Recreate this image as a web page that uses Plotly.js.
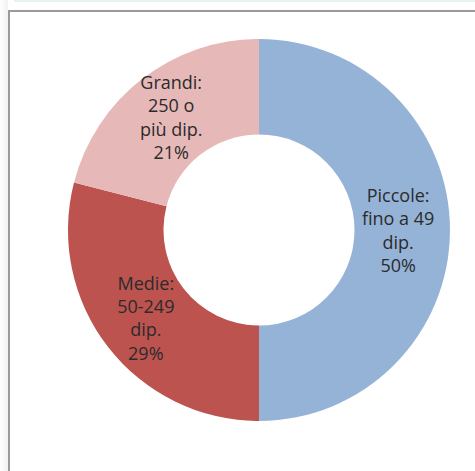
<!DOCTYPE html>
<html>
<head>
<meta charset="utf-8">
<script src="https://cdn.plot.ly/plotly-3.0.1.min.js"></script>
<style>
  html, body { margin: 0; padding: 0; background: #ffffff; width: 475px; height: 471px; overflow: hidden; }
  #shade { position: absolute; left: 0; top: 0; width: 8px; height: 471px; background: linear-gradient(to right, #ffffff, #f1f1f1); }
  #strip { position: absolute; left: 14px; top: 0; width: 461px; height: 2px; background: #e6f3f3; }
  #frame { position: absolute; left: 8px; top: 10px; width: 520px; height: 520px; border: 2px solid #9a9a9a; background: #ffffff; box-sizing: border-box; }
  #chart { position: absolute; left: 0; top: 0; width: 475px; height: 471px; }
</style>
</head>
<body>
<div id="shade"></div>
<div id="strip"></div>
<div id="frame"></div>
<div id="chart"></div>
<script>
const categories = ["Piccole: fino a 49 dip.", "Medie: 50-249 dip.", "Grandi: 250 o più dip."];
const labelLines = ["Piccole:<br>fino a 49<br>dip.", "Medie:<br>50-249<br>dip.", "Grandi:<br>250 o<br>più dip."];
const values = [50, 29, 21];
const colors = ["#95B3D7", "#BC534F", "#E6B9B8"];

const texts = labelLines.map((l, i) => l + "<br>" + values[i] + "%");

Plotly.newPlot("chart", [{
  type: "pie",
  labels: categories,
  values: values,
  text: texts,
  textinfo: "text",
  textposition: "inside",
  insidetextorientation: "horizontal",
  hole: 0.5,
  sort: false,
  direction: "clockwise",
  rotation: 0,
  marker: { colors: colors, line: { width: 0 } },
  textfont: { family: "Open Sans, sans-serif", size: 18, color: "#2b2b2b" },
  showlegend: false
}], {
  width: 475,
  height: 471,
  margin: { l: 68, r: 25, t: 39, b: 50 },
  paper_bgcolor: "rgba(0,0,0,0)",
  plot_bgcolor: "rgba(0,0,0,0)",
  uniformtext: { mode: "show", minsize: 18 },
  showlegend: false
}, { displayModeBar: false, staticPlot: true });
</script>
</body>
</html>
